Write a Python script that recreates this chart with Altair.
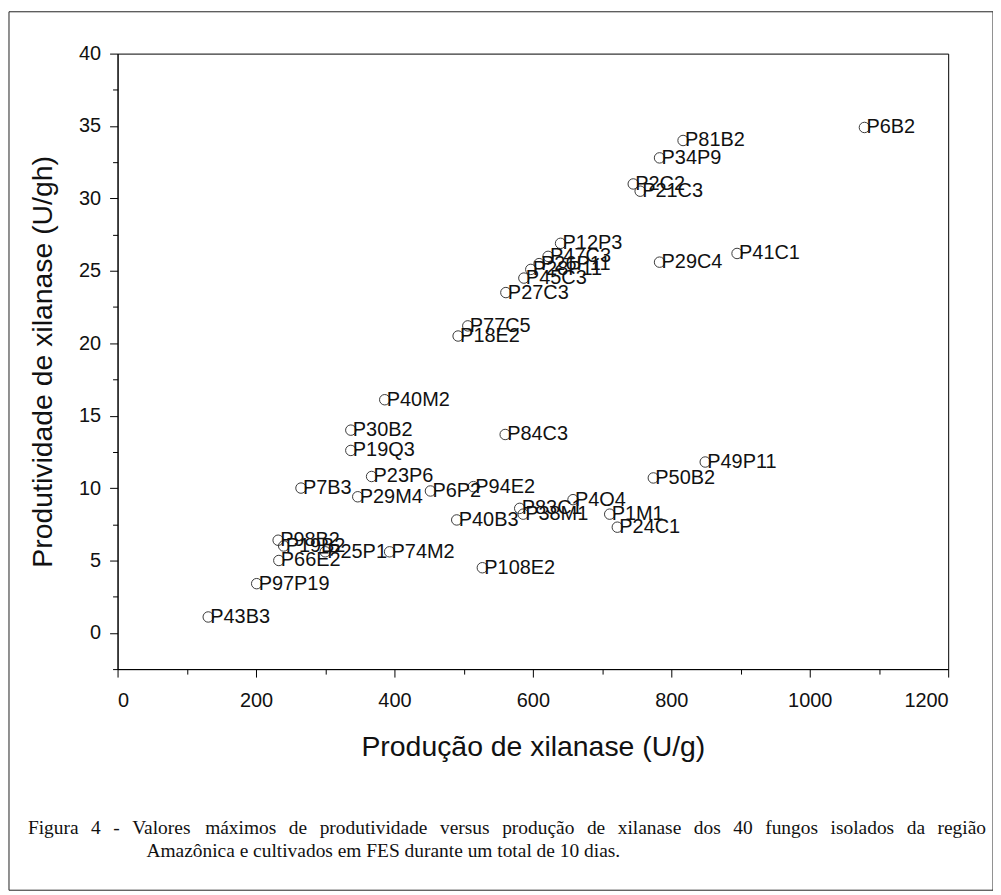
import altair as alt
import pandas as pd

# ---- data ----
isolates = ["P6B2", "P81B2", "P34P9", "P2C2", "P21C3", "P41C1", "P29C4",
            "P12P3", "P47C3", "P26P11", "P28P11", "P45C3", "P27C3",
            "P77C5", "P18E2", "P40M2", "P30B2", "P19Q3", "P84C3",
            "P23P6", "P7B3", "P29M4", "P6P2", "P94E2", "P49P11", "P50B2",
            "P4O4", "P83C1", "P38M1", "P1M1", "P24C1", "P40B3",
            "P98B2", "P19B2", "P66E2", "P25P1", "P74M2", "P108E2",
            "P97P19", "P43B3"]
producao = [1079, 817, 783, 745, 755, 895, 783,
            640, 622, 609, 597, 587, 561,
            506, 492, 386, 337, 337, 560,
            367, 265, 347, 452, 514, 849, 774,
            658, 581, 586, 711, 722, 490,
            232, 240, 233, 300, 393, 527,
            201, 131]
produtividade = [34.9, 34.0, 32.8, 31.0, 30.5, 26.2, 25.6,
                 26.9, 26.0, 25.5, 25.1, 24.5, 23.5,
                 21.2, 20.5, 16.1, 14.0, 12.6, 13.7,
                 10.8, 10.0, 9.4, 9.8, 10.1, 11.8, 10.7,
                 9.2, 8.6, 8.2, 8.2, 7.3, 7.8,
                 6.4, 6.0, 5.0, 5.6, 5.6, 4.5,
                 3.4, 1.1]

x_title = "Produção de xilanase (U/g)"
y_title = "Produtividade de xilanase (U/gh)"
caption_line1 = ("Figura 4 - Valores máximos de produtividade versus produção "
                 "de xilanase dos 40 fungos isolados da região")
caption_line2 = "Amazônica e cultivados em FES durante um total de 10 dias."

x_ticks = list(range(0, 1201, 100))
y_ticks = [v / 2 for v in range(-5, 81, 5)]

# ---- layout ----
W, H = 834, 618
PAD = {"left": 110, "top": 44, "right": 45, "bottom": 222}

df = pd.DataFrame({"nome": isolates, "prod": producao, "pdt": produtividade})

xs = alt.Scale(domain=[0, 1200], nice=False, zero=False)
ys = alt.Scale(domain=[-2.5, 40], nice=False, zero=False)

x_axis = alt.Axis(
    values=x_ticks, format="d", title=x_title,
    labelExpr="datum.value % 200 === 0 ? datum.label : ''",
    tickSize={"condition": {"test": "datum.value % 200 === 0", "value": 8}, "value": 5},
    labelPadding=14, titlePadding=22,
)
y_axis = alt.Axis(
    values=y_ticks, title=y_title,
    labelExpr="datum.value % 5 === 0 ? datum.label : ''",
    tickSize={"condition": {"test": "datum.value % 5 === 0", "value": 8}, "value": 5},
    labelPadding=9, titlePadding=21,
)

points = alt.Chart(df).mark_point(
    shape="circle", filled=False, size=110, stroke="#3a3a3a", strokeWidth=1, opacity=1
).encode(
    x=alt.X("prod:Q", scale=xs, axis=x_axis),
    y=alt.Y("pdt:Q", scale=ys, axis=y_axis),
)

labels = alt.Chart(df).mark_text(
    align="left", baseline="middle", dx=2, fontSize=20,
    font="Liberation Sans", color="#111111"
).encode(
    x=alt.X("prod:Q", scale=xs, axis=None),
    y=alt.Y("pdt:Q", scale=ys, axis=None),
    text="nome:N",
)

# ---- caption (line 1 justified across the figure width) ----
times_w = {" ": 250, "a": 444, "b": 500, "c": 444, "d": 500, "e": 444, "f": 333,
           "g": 500, "h": 500, "i": 278, "l": 278, "m": 778, "n": 500, "o": 500,
           "p": 500, "r": 333, "s": 389, "t": 278, "u": 500, "v": 500, "x": 500,
           "z": 444, "á": 444, "ã": 444, "ç": 444, "ô": 500, "F": 556, "V": 722,
           "A": 722, "E": 611, "S": 556, "-": 333, ".": 250, "0": 500, "1": 500,
           "4": 500}
cap_fs = 19.5
words = caption_line1.split(" ")
widths = [sum(times_w.get(c, 500) for c in w) * cap_fs / 1000 for w in words]
line_start, line_end = -90, 872
gap = (line_end - line_start - sum(widths)) / (len(words) - 1)
pos, cur = [], line_start
for w in widths:
    pos.append(cur)
    cur += w + gap
cap_df = pd.DataFrame({"word": words, "px": pos})

cap1 = alt.Chart(cap_df).mark_text(
    align="left", baseline="middle", fontSize=cap_fs,
    font="Liberation Serif", color="#111111"
).encode(
    x=alt.X("px:Q", scale=None, axis=None),
    y=alt.value(778),
    text="word:N",
)
cap2 = alt.Chart(pd.DataFrame({"t": [caption_line2]})).mark_text(
    align="left", baseline="middle", fontSize=cap_fs,
    font="Liberation Serif", color="#111111"
).encode(
    x=alt.value(29), y=alt.value(801), text="t:N",
)

border = alt.Chart(pd.DataFrame({"k": [0]})).mark_rect(
    fill=None, stroke="#222222", strokeWidth=1
).encode(
    x=alt.value(-109), x2=alt.value(879), y=alt.value(-42), y2=alt.value(840),
)

chart = alt.layer(points, labels, cap1, cap2, border).resolve_scale(
    x="independent", y="independent"
).properties(
    width=W, height=H,
    autosize=alt.AutoSizeParams(type="none"),
    padding=PAD,
).configure_view(
    stroke="black", strokeWidth=1
).configure_axis(
    grid=False, domainColor="black", tickColor="black",
    labelColor="#111111", titleColor="#111111",
    labelFont="Liberation Sans", titleFont="Liberation Sans",
    labelFontSize=20, titleFontSize=28.5, titleFontWeight="normal",
    domainWidth=1, tickWidth=1,
)

chart.save("out.html", embed_options={"renderer": "svg", "actions": False})
